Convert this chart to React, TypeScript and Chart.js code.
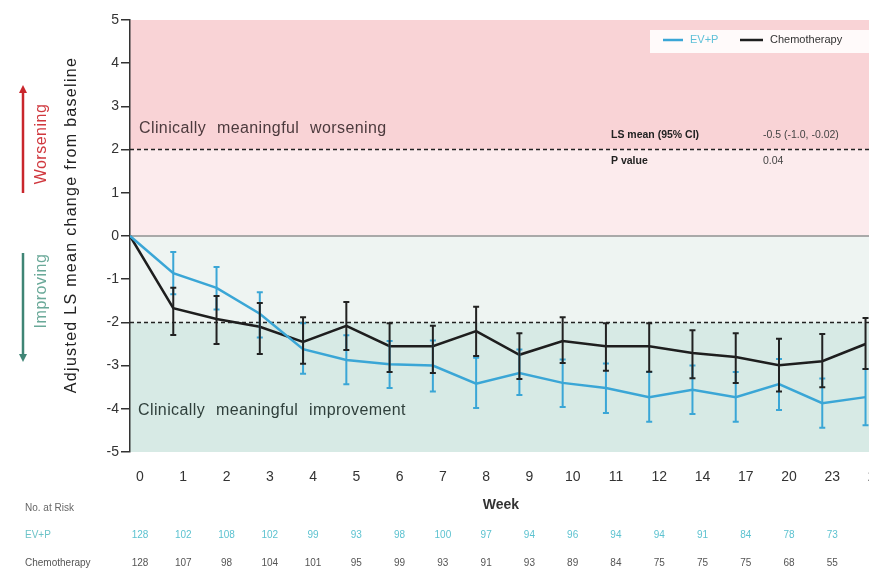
import React, { useEffect, useRef } from "react";
import { Chart, registerables } from "chart.js";
Chart.register(...registerables);

const weeks = ["0", "1", "2", "3", "4", "5", "6", "7", "8", "9", "10", "11", "12", "14", "17", "20", "23", "26"];

const evpMean = [0, -0.86, -1.2, -1.8, -2.62, -2.87, -2.97, -3.0, -3.42, -3.17, -3.4, -3.52, -3.73, -3.56, -3.73, -3.43, -3.87, -3.73];
const evpUpper = [0, -0.37, -0.72, -1.3, -2.02, -2.3, -2.43, -2.42, -2.82, -2.63, -2.86, -2.95, -3.15, -3.0, -3.15, -2.85, -3.3, -3.08];
const evpLower = [0, -1.35, -1.7, -2.35, -3.19, -3.43, -3.52, -3.6, -3.98, -3.68, -3.96, -4.1, -4.3, -4.12, -4.3, -4.03, -4.44, -4.38];

const chemoMean = [0, -1.67, -1.92, -2.1, -2.45, -2.08, -2.55, -2.55, -2.2, -2.75, -2.43, -2.55, -2.55, -2.71, -2.8, -2.99, -2.9, -2.5];
const chemoUpper = [0, -1.2, -1.39, -1.55, -1.88, -1.53, -2.02, -2.08, -1.64, -2.25, -1.88, -2.02, -2.02, -2.18, -2.25, -2.38, -2.27, -1.9];
const chemoLower = [0, -2.29, -2.5, -2.73, -2.96, -2.64, -3.15, -3.17, -2.78, -3.31, -2.94, -3.12, -3.14, -3.29, -3.4, -3.6, -3.5, -3.08];

const evpAtRisk = ["128", "102", "108", "102", "99", "93", "98", "100", "97", "94", "96", "94", "94", "91", "84", "78", "73", "72"];
const chemoAtRisk = ["128", "107", "98", "104", "101", "95", "99", "93", "91", "93", "89", "84", "75", "75", "75", "68", "55", "53"];

const EVP_COLOR = "#3aa6d6";
const CHEMO_COLOR = "#1e1e1e";
const FONT = "'Liberation Sans', Arial, sans-serif";
const LABEL_SHIFT = 10;

const bandsPlugin = {
  id: "bands",
  beforeDraw(chart: any) {
    const { ctx, chartArea, scales } = chart;
    const { left, right } = chartArea;
    const y = scales.y;
    const band = (a: number, b: number, c: string) => {
      const y1 = y.getPixelForValue(a);
      const y2 = y.getPixelForValue(b);
      ctx.fillStyle = c;
      ctx.fillRect(left, y1, right - left, y2 - y1);
    };
    ctx.save();
    band(5, 2, "#f9d3d6");
    band(2, 0, "#fcebed");
    band(0, -2, "#eef4f2");
    band(-2, -5, "#d7eae5");
    ctx.restore();
  },
  beforeDatasetsDraw(chart: any) {
    const { ctx, chartArea, scales } = chart;
    const { left, right } = chartArea;
    const y = scales.y;
    ctx.save();
    ctx.strokeStyle = "#a9a9a9";
    ctx.lineWidth = 2;
    ctx.beginPath();
    ctx.moveTo(left, y.getPixelForValue(0));
    ctx.lineTo(right, y.getPixelForValue(0));
    ctx.stroke();
    ctx.strokeStyle = "#222";
    ctx.lineWidth = 1.5;
    ctx.setLineDash([4, 3]);
    [2, -2].forEach((v) => {
      ctx.beginPath();
      ctx.moveTo(left, y.getPixelForValue(v));
      ctx.lineTo(right, y.getPixelForValue(v));
      ctx.stroke();
    });
    ctx.setLineDash([]);
    ctx.font = `16px ${FONT}`;
    (ctx as any).letterSpacing = "0.4px";
    (ctx as any).wordSpacing = "6px";
    ctx.textBaseline = "middle";
    ctx.textAlign = "left";
    ctx.fillStyle = "#4c3a3d";
    ctx.fillText("Clinically meaningful worsening", left + 9, y.getPixelForValue(2.48));
    ctx.fillStyle = "#2f3f3b";
    ctx.fillText("Clinically meaningful improvement", left + 8, y.getPixelForValue(-4.03));
    (ctx as any).letterSpacing = "0px";
    (ctx as any).wordSpacing = "0px";
    ctx.restore();
  },
  afterDatasetsDraw(chart: any) {
    const { ctx, scales } = chart;
    const x = scales.x;
    const y = scales.y;
    const bars = (lo: number[], hi: number[], color: string) => {
      ctx.strokeStyle = color;
      ctx.lineWidth = 2;
      lo.forEach((l, i) => {
        const h = hi[i];
        if (l === h) return;
        const px = x.getPixelForValue(i);
        const y1 = y.getPixelForValue(h);
        const y2 = y.getPixelForValue(l);
        ctx.beginPath();
        ctx.moveTo(px, y1);
        ctx.lineTo(px, y2);
        ctx.moveTo(px - 3, y1);
        ctx.lineTo(px + 3, y1);
        ctx.moveTo(px - 3, y2);
        ctx.lineTo(px + 3, y2);
        ctx.stroke();
      });
    };
    ctx.save();
    bars(evpLower, evpUpper, EVP_COLOR);
    bars(chemoLower, chemoUpper, "#222");
    ctx.restore();
  },
  afterDraw(chart: any) {
    const { ctx, scales } = chart;
    const x = scales.x;
    ctx.save();
    ctx.save();
    ctx.translate(64, 217);
    ctx.rotate(-Math.PI / 2);
    ctx.font = `16px ${FONT}`;
    (ctx as any).letterSpacing = "1.3px";
    ctx.fillStyle = "#222";
    ctx.textAlign = "center";
    ctx.textBaseline = "middle";
    ctx.fillText("Adjusted LS mean change from baseline", 0, 0);
    ctx.restore();
    (ctx as any).letterSpacing = "0px";

    const arrow = (ax: number, y1: number, y2: number, color: string) => {
      ctx.strokeStyle = color;
      ctx.fillStyle = color;
      ctx.lineWidth = 2.5;
      const dir = y2 > y1 ? 1 : -1;
      ctx.beginPath();
      ctx.moveTo(ax, y1);
      ctx.lineTo(ax, y2 - dir * 6);
      ctx.stroke();
      ctx.beginPath();
      ctx.moveTo(ax - 4, y2 - dir * 8);
      ctx.lineTo(ax + 4, y2 - dir * 8);
      ctx.lineTo(ax, y2);
      ctx.closePath();
      ctx.fill();
    };
    arrow(15, 185, 77, "#c9262c");
    arrow(15, 245, 354, "#3f8575");
    const rotText = (t: string, cx: number, cy: number, color: string) => {
      ctx.save();
      ctx.translate(cx, cy);
      ctx.rotate(-Math.PI / 2);
      ctx.font = `16px ${FONT}`;
      (ctx as any).letterSpacing = "0.5px";
      ctx.fillStyle = color;
      ctx.textAlign = "center";
      ctx.textBaseline = "middle";
      ctx.fillText(t, 0, 0);
      ctx.restore();
    };
    rotText("Worsening", 34, 136, "#d0383e");
    rotText("Improving", 34, 283, "#6aa999");
    (ctx as any).letterSpacing = "0px";

    ctx.fillStyle = "rgba(255,255,255,0.88)";
    ctx.fillRect(642, 22, 260, 23);
    ctx.lineWidth = 2.5;
    ctx.strokeStyle = EVP_COLOR;
    ctx.beginPath();
    ctx.moveTo(655, 32);
    ctx.lineTo(675, 32);
    ctx.stroke();
    ctx.strokeStyle = CHEMO_COLOR;
    ctx.beginPath();
    ctx.moveTo(732, 32);
    ctx.lineTo(755, 32);
    ctx.stroke();
    ctx.font = `11px ${FONT}`;
    ctx.textBaseline = "middle";
    ctx.textAlign = "left";
    ctx.fillStyle = "#5ec0d8";
    ctx.fillText("EV+P", 682, 32);
    ctx.fillStyle = "#333";
    ctx.fillText("Chemotherapy", 762, 32);

    ctx.font = `bold 10.5px ${FONT}`;
    ctx.fillStyle = "#222";
    ctx.fillText("LS mean (95% CI)", 603, 127);
    ctx.fillText("P value", 603, 153);
    ctx.font = `10.5px ${FONT}`;
    ctx.fillStyle = "#444";
    ctx.fillText("-0.5 (-1.0, -0.02)", 755, 127);
    ctx.fillText("0.04", 755, 153);

    ctx.font = `bold 14px ${FONT}`;
    ctx.fillStyle = "#333";
    ctx.textAlign = "center";
    ctx.fillText("Week", 493, 497);

    ctx.font = `10px ${FONT}`;
    ctx.textAlign = "left";
    ctx.fillStyle = "#666";
    ctx.fillText("No. at Risk", 17, 500);
    ctx.fillStyle = "#6cc3c8";
    ctx.fillText("EV+P", 17, 527);
    ctx.fillStyle = "#555";
    ctx.fillText("Chemotherapy", 17, 555);
    ctx.textAlign = "center";
    evpAtRisk.forEach((t, i) => {
      ctx.fillStyle = "#5cc2d0";
      ctx.fillText(t, x.getPixelForValue(i) + LABEL_SHIFT, 527);
    });
    chemoAtRisk.forEach((t, i) => {
      ctx.fillStyle = "#555";
      ctx.fillText(t, x.getPixelForValue(i) + LABEL_SHIFT, 555);
    });
    ctx.restore();
  },
};

export default function App() {
  const ref = useRef<HTMLCanvasElement | null>(null);
  useEffect(() => {
    if (!ref.current) return;
    const chart = new Chart(ref.current, {
      type: "line",
      data: {
        datasets: [
          {
            label: "EV+P",
            data: evpMean.map((v, i) => ({ x: i, y: v })),
            borderColor: EVP_COLOR,
            borderWidth: 2.5,
            pointRadius: 0,
            tension: 0,
          },
          {
            label: "Chemotherapy",
            data: chemoMean.map((v, i) => ({ x: i, y: v })),
            borderColor: CHEMO_COLOR,
            borderWidth: 2.5,
            pointRadius: 0,
            tension: 0,
          },
        ],
      },
      options: {
        animation: false,
        responsive: false,
        devicePixelRatio: 1,
        layout: { padding: { top: 12, right: 23, left: 0, bottom: 0 } },
        plugins: { legend: { display: false }, tooltip: { enabled: false } },
        scales: {
          x: {
            type: "linear",
            min: 0,
            max: 17.45,
            grid: { display: false, drawTicks: false },
            border: { display: false },
            afterBuildTicks: (s: any) => {
              s.ticks = weeks.map((_, i) => ({ value: i }));
            },
            afterFit: (s: any) => {
              s.height = 122;
            },
            ticks: {
              callback: (v: any) => weeks[Math.round(Number(v))],
              labelOffset: LABEL_SHIFT,
              padding: 17,
              autoSkip: false,
              maxRotation: 0,
              color: "#333",
              font: { family: FONT, size: 14 },
            },
          },
          y: {
            min: -5,
            max: 5,
            afterFit: (s: any) => {
              s.width = 122;
            },
            grid: { drawOnChartArea: false, tickLength: 9, color: "#333", lineWidth: 1.5 },
            border: { color: "#333", width: 1.5 },
            ticks: { stepSize: 1, padding: 2, color: "#333", font: { family: FONT, size: 14 } },
          },
        },
      },
      plugins: [bandsPlugin],
    } as any);
    return () => chart.destroy();
  }, []);
  return (
    <div
      style={{
        position: "fixed",
        left: 8,
        top: 8,
        width: 861,
        height: 566,
        overflow: "hidden",
      }}
    >
      <canvas ref={ref} width={900} height={566} style={{ display: "block", width: 900, height: 566 }} />
    </div>
  );
}
